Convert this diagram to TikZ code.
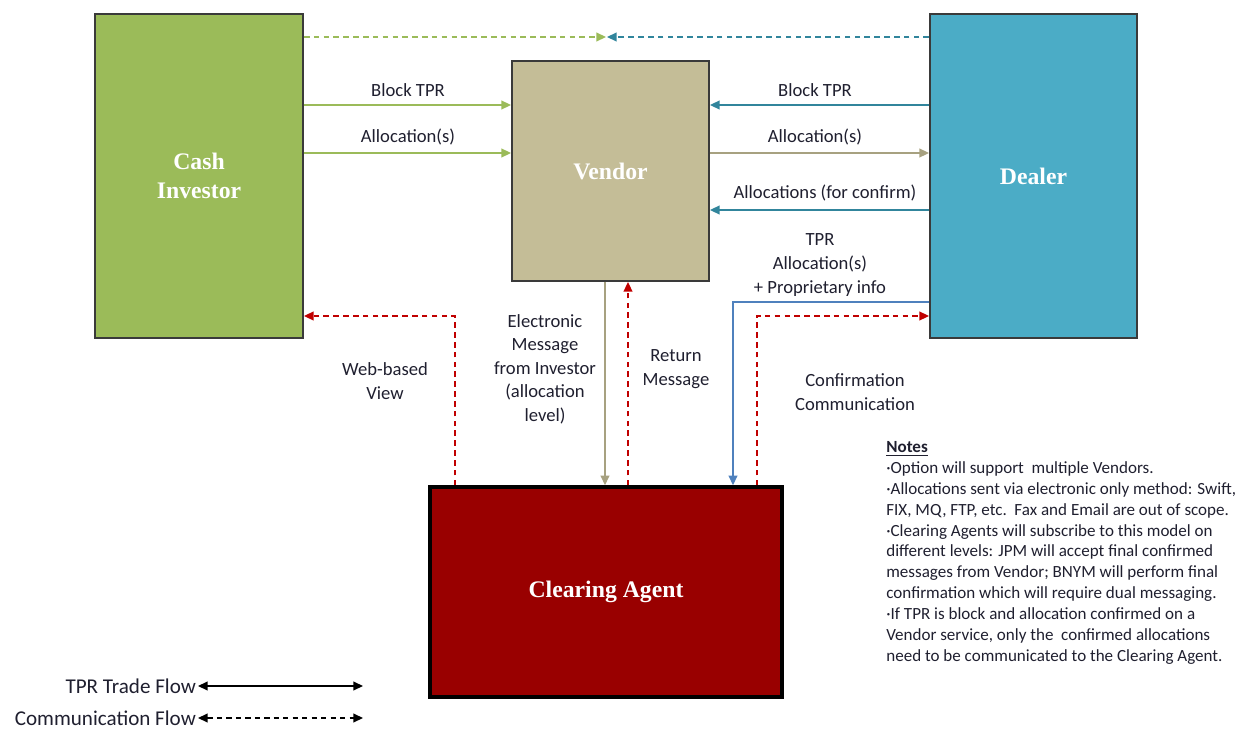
\documentclass[tikz,border=0pt]{standalone}
\usepackage{fontspec}
\setmainfont{Carlito}
\newfontfamily\boxfont{Liberation Serif}
\usetikzlibrary{arrows.meta}
\definecolor{cigreen}{HTML}{9BBB59}
\definecolor{vtan}{HTML}{C4BD97}
\definecolor{vtandark}{HTML}{B3AC86}
\definecolor{dblue}{HTML}{4BACC6}
\definecolor{teal}{HTML}{31859C}
\definecolor{sblue}{HTML}{4F81BD}
\definecolor{cared}{HTML}{990000}
\definecolor{dred}{HTML}{C00000}
\definecolor{edge}{HTML}{3A3A3A}
\definecolor{txt}{HTML}{1F1F2F}
\tikzset{
  party/.style={draw=edge, line width=1.1pt, text=white, align=center,
    font=\boxfont\bfseries\fontsize{13.5}{16.5}\selectfont, inner sep=0pt},
  flow/.style={line width=0.9pt, -{Triangle[length=5.5pt,width=5pt]}},
  comm/.style={flow, dash pattern=on 3.2pt off 2.4pt},
  lbl/.style={text=txt, align=center, font=\fontsize{10.6}{13.4}\selectfont},
  legend/.style={text=txt, anchor=east, font=\fontsize{12}{14}\selectfont, inner sep=1pt},
  legarrow/.style={line width=0.8pt, {Triangle[length=5.5pt,width=5pt]}-{Triangle[length=5.5pt,width=5pt]}}
}
\begin{document}
\begin{tikzpicture}[x=0.02cm, y=-0.02cm]
\useasboundingbox (0,0) rectangle (1249,730);

% parties
\node[party, fill=cigreen, minimum width=208*0.02cm, minimum height=324*0.02cm] (ci) at (199,176) {Cash\\Investor};
\node[party, fill=vtan, minimum width=197*0.02cm, minimum height=220*0.02cm] (ven) at (610.5,171) {Vendor};
\node[party, fill=dblue, minimum width=207*0.02cm, minimum height=324*0.02cm] (dl) at (1033.5,176) {Dealer};
\node[party, fill=cared, draw=black, line width=2pt, minimum width=352*0.02cm, minimum height=210*0.02cm] (ca) at (606,592) {Clearing Agent};

% top communication line meeting in the middle
\coordinate (meetL) at (606,37);
\coordinate (meetR) at (607,37);
\draw[comm, cigreen] (ci.east |- 0,37) -- (meetL);
\draw[comm, teal] (dl.west |- 0,37) -- (meetR);

% investor to vendor
\draw[flow, cigreen] (ci.east |- 0,105) -- (ven.west |- 0,105);
\draw[flow, cigreen] (ci.east |- 0,153) -- (ven.west |- 0,153);
\node[lbl] (l1) at (408,90) {Block TPR};
\node[lbl] (l2) at (408,137) {Allocation(s)};

% dealer and vendor
\draw[flow, teal] (dl.west |- 0,105) -- (ven.east |- 0,105);
\draw[flow, vtan!85!black] (ven.east |- 0,153) -- (dl.west |- 0,153);
\draw[flow, teal] (dl.west |- 0,210) -- (ven.east |- 0,210);
\node[lbl] (l3) at (815,90) {Block TPR};
\node[lbl] (l4) at (815,137) {Allocation(s)};
\node[lbl] (l5) at (825,193) {Allocations (for confirm)};

% dealer to clearing agent
\draw[flow, sblue] (dl.west |- 0,302) -| (ca.north -| 733,0);
\node[lbl] (l6) at (820,265) {TPR\\Allocation(s)\\+ Proprietary info};

% vendor and clearing agent
\draw[flow, vtan!85!black] (ven.south -| 605,0) -- (ca.north -| 605,0);
\draw[comm, dred] (ca.north -| 628,0) -- (ven.south -| 628,0);
\node[lbl] (l7) at (545,369) {Electronic\\Message\\from Investor\\(allocation\\level)};
\node[lbl] (l8) at (676,369) {Return\\Message};

% clearing agent communications
\draw[comm, dred] (ca.north -| 455,0) |- (ci.east |- 0,316);
\draw[comm, dred] (ca.north -| 757,0) |- (dl.west |- 0,316);
\node[lbl] (l9) at (385,381) {Web-based\\View};
\node[lbl] (l10) at (855,392) {Confirmation\\Communication};

% notes
\node[text=txt, anchor=north west, align=left, inner sep=0pt,
      font=\fontsize{9.7}{11.9}\selectfont] (notes) at (886,441) {%
\textbf{\underline{Notes}}\\
·Option will support\ \ multiple Vendors.\\
·Allocations sent via electronic only\ method: Swift,\\
FIX, MQ, FTP, etc.\ \ Fax and Email are out of scope.\\
·Clearing Agents will subscribe to this\ model on\\
different levels: JPM will accept final confirmed\\
messages from Vendor; BNYM will perform\ final\\
confirmation which will require\ dual messaging.\\
·If TPR is block and allocation confirmed on a\\
Vendor service, only the\ \ confirmed allocations\\
need to be communicated to the Clearing Agent.};

% legend
\coordinate (t1) at (198,686);
\coordinate (t2) at (363,686);
\coordinate (c1) at (198,718);
\coordinate (c2) at (363,718);
\node[legend] (lg1) at (t1) {TPR Trade Flow};
\node[legend] (lg2) at (c1) {Communication Flow};
\draw[legarrow, black] (t1) -- (t2);
\draw[legarrow, black, dash pattern=on 3pt off 2.4pt] (c1) -- (c2);
\end{tikzpicture}
\end{document}
